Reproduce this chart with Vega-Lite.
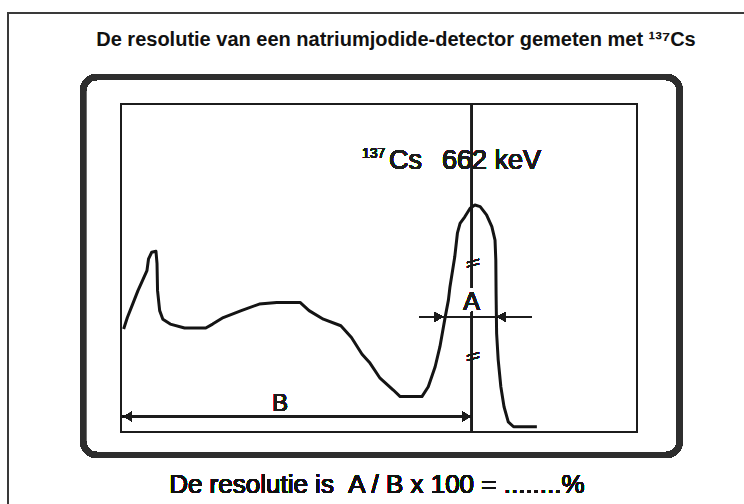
{
  "$schema": "https://vega.github.io/schema/vega-lite/v6.json",
  "width": 516,
  "height": 328,
  "autosize": {"type": "none"},
  "padding": {"left": 121, "top": 104, "right": 107, "bottom": 72},
  "background": "white",
  "config": {
    "view": {"stroke": "#1c1c1c", "strokeWidth": 2},
    "font": "Liberation Sans"
  },
  "title": {
    "text": "De resolutie van een natriumjodide-detector gemeten met  ¹³⁷Cs",
    "font": "Liberation Sans",
    "fontSize": 20,
    "fontWeight": "bold",
    "color": "#111111",
    "offset": -38,
    "dx": 17
  },
  "data": {
    "values": [
      {"keV": 5, "counts": 31.4}, {"keV": 12, "counts": 34.9}, {"keV": 22, "counts": 39},
      {"keV": 32, "counts": 43.1}, {"keV": 42, "counts": 46.7}, {"keV": 49, "counts": 49.2},
      {"keV": 52, "counts": 52.8}, {"keV": 58, "counts": 54.8}, {"keV": 66, "counts": 55.1},
      {"keV": 68, "counts": 51.3}, {"keV": 69, "counts": 43.1}, {"keV": 73, "counts": 37},
      {"keV": 79, "counts": 34.4}, {"keV": 93, "counts": 32.9}, {"keV": 120, "counts": 31.7},
      {"keV": 160, "counts": 31.7}, {"keV": 173, "counts": 32.9}, {"keV": 193, "counts": 34.9},
      {"keV": 227, "counts": 37}, {"keV": 261, "counts": 39}, {"keV": 294, "counts": 39.5},
      {"keV": 338, "counts": 39.5}, {"keV": 355, "counts": 37}, {"keV": 382, "counts": 34.4},
      {"keV": 415, "counts": 32.4}, {"keV": 435, "counts": 28.8}, {"keV": 455, "counts": 23.7},
      {"keV": 470, "counts": 21}, {"keV": 489, "counts": 16.4}, {"keV": 514, "counts": 12.8},
      {"keV": 527, "counts": 10.8}, {"keV": 568, "counts": 10.8}, {"keV": 580, "counts": 13.8},
      {"keV": 593, "counts": 19.9}, {"keV": 602, "counts": 26}, {"keV": 612, "counts": 35.1},
      {"keV": 618, "counts": 40.2}, {"keV": 621, "counts": 44.3}, {"keV": 630, "counts": 53.4},
      {"keV": 635, "counts": 60.6}, {"keV": 640, "counts": 63.6}, {"keV": 649, "counts": 65.6},
      {"keV": 659, "counts": 68.2}, {"keV": 668, "counts": 69.2}, {"keV": 678, "counts": 68.7},
      {"keV": 690, "counts": 66.2}, {"keV": 700, "counts": 62.6}, {"keV": 706, "counts": 58.5},
      {"keV": 707.5, "counts": 52.4}, {"keV": 708, "counts": 42.3}, {"keV": 709, "counts": 30.1},
      {"keV": 712, "counts": 22}, {"keV": 717, "counts": 13.8}, {"keV": 723, "counts": 7.7},
      {"keV": 731, "counts": 3.1}, {"keV": 741, "counts": 1.6}, {"keV": 785, "counts": 1.6}
    ]
  },
  "layer": [
    {
      "mark": {"type": "rect", "fillOpacity": 0, "fill": "white", "stroke": "#3a3a3a", "strokeWidth": 1.5},
      "encoding": {
        "x": {"datum": -213, "type": "quantitative", "scale": {"domain": [0, 974], "nice": false, "zero": false}, "axis": null},
        "x2": {"datum": 1206},
        "y": {"datum": 127.7, "type": "quantitative", "scale": {"domain": [0, 100], "nice": false, "zero": false}, "axis": null},
        "y2": {"datum": -30}
      }
    },
    {
      "mark": {"type": "rect", "fillOpacity": 0, "fill": "white", "stroke": "#2e2e2e", "strokeWidth": 6, "cornerRadius": 14},
      "encoding": {
        "x": {"datum": -71.7, "type": "quantitative", "scale": {"domain": [0, 974], "nice": false, "zero": false}, "axis": null},
        "x2": {"datum": 1055},
        "y": {"datum": 108.2, "type": "quantitative", "scale": {"domain": [0, 100], "nice": false, "zero": false}, "axis": null},
        "y2": {"datum": -7.0}
      }
    },
    {
      "mark": {"type": "line", "color": "#141414", "strokeWidth": 3, "strokeJoin": "round"},
      "encoding": {
        "x": {"field": "keV", "type": "quantitative", "scale": {"domain": [0, 974], "nice": false, "zero": false}, "axis": null},
        "y": {"field": "counts", "type": "quantitative", "scale": {"domain": [0, 100], "nice": false, "zero": false}, "axis": null}
      }
    },
    {
      "mark": {"type": "rule", "color": "#1c1c1c", "strokeWidth": 1.5},
      "encoding": {
        "x": {"datum": 662, "type": "quantitative", "scale": {"domain": [0, 974], "nice": false, "zero": false}, "axis": null},
        "y": {"datum": 100, "type": "quantitative", "scale": {"domain": [0, 100], "nice": false, "zero": false}, "axis": null},
        "y2": {"datum": 43.9}
      }
    },
    {
      "mark": {"type": "rule", "color": "#1c1c1c", "strokeWidth": 1.5},
      "encoding": {
        "x": {"datum": 662, "type": "quantitative", "scale": {"domain": [0, 974], "nice": false, "zero": false}, "axis": null},
        "y": {"datum": 36.7, "type": "quantitative", "scale": {"domain": [0, 100], "nice": false, "zero": false}, "axis": null},
        "y2": {"datum": 0}
      }
    },
    {
      "mark": {"type": "rule", "color": "#1c1c1c", "strokeWidth": 1.5},
      "encoding": {
        "x": {"datum": 563, "type": "quantitative", "scale": {"domain": [0, 974], "nice": false, "zero": false}, "axis": null},
        "x2": {"datum": 775},
        "y": {"datum": 35.1, "type": "quantitative", "scale": {"domain": [0, 100], "nice": false, "zero": false}, "axis": null}
      }
    },
    {
      "mark": {"type": "rule", "color": "#1c1c1c", "strokeWidth": 1.5},
      "encoding": {
        "x": {"datum": 3, "type": "quantitative", "scale": {"domain": [0, 974], "nice": false, "zero": false}, "axis": null},
        "x2": {"datum": 660},
        "y": {"datum": 4.7, "type": "quantitative", "scale": {"domain": [0, 100], "nice": false, "zero": false}, "axis": null}
      }
    },
    {
      "mark": {"type": "point", "shape": "triangle-right", "filled": true, "color": "#1c1c1c", "size": 90, "opacity": 1},
      "encoding": {
        "x": {"datum": 600, "type": "quantitative", "scale": {"domain": [0, 974], "nice": false, "zero": false}, "axis": null},
        "y": {"datum": 35.1, "type": "quantitative", "scale": {"domain": [0, 100], "nice": false, "zero": false}, "axis": null}
      }
    },
    {
      "mark": {"type": "point", "shape": "triangle-left", "filled": true, "color": "#1c1c1c", "size": 90, "opacity": 1},
      "encoding": {
        "x": {"datum": 718, "type": "quantitative", "scale": {"domain": [0, 974], "nice": false, "zero": false}, "axis": null},
        "y": {"datum": 35.1, "type": "quantitative", "scale": {"domain": [0, 100], "nice": false, "zero": false}, "axis": null}
      }
    },
    {
      "mark": {"type": "point", "shape": "triangle-left", "filled": true, "color": "#1c1c1c", "size": 90, "opacity": 1},
      "encoding": {
        "x": {"datum": 13, "type": "quantitative", "scale": {"domain": [0, 974], "nice": false, "zero": false}, "axis": null},
        "y": {"datum": 4.7, "type": "quantitative", "scale": {"domain": [0, 100], "nice": false, "zero": false}, "axis": null}
      }
    },
    {
      "mark": {"type": "point", "shape": "triangle-right", "filled": true, "color": "#1c1c1c", "size": 90, "opacity": 1},
      "encoding": {
        "x": {"datum": 652, "type": "quantitative", "scale": {"domain": [0, 974], "nice": false, "zero": false}, "axis": null},
        "y": {"datum": 4.7, "type": "quantitative", "scale": {"domain": [0, 100], "nice": false, "zero": false}, "axis": null}
      }
    },
    {
      "mark": {"type": "text", "text": "\\\\", "fontSize": 16, "angle": 90, "color": "#1c1c1c", "align": "center", "baseline": "middle"},
      "encoding": {
        "x": {"datum": 662, "type": "quantitative", "scale": {"domain": [0, 974], "nice": false, "zero": false}, "axis": null},
        "y": {"datum": 51.5, "type": "quantitative", "scale": {"domain": [0, 100], "nice": false, "zero": false}, "axis": null}
      }
    },
    {
      "mark": {"type": "text", "text": "\\\\", "fontSize": 16, "angle": 90, "color": "#1c1c1c", "align": "center", "baseline": "middle"},
      "encoding": {
        "x": {"datum": 662, "type": "quantitative", "scale": {"domain": [0, 974], "nice": false, "zero": false}, "axis": null},
        "y": {"datum": 23, "type": "quantitative", "scale": {"domain": [0, 100], "nice": false, "zero": false}, "axis": null}
      }
    },
    {
      "mark": {"type": "text", "text": "A", "fontSize": 25, "color": "#1c1c1c", "align": "center", "baseline": "alphabetic"},
      "encoding": {
        "x": {"datum": 662, "type": "quantitative", "scale": {"domain": [0, 974], "nice": false, "zero": false}, "axis": null},
        "y": {"datum": 37.2, "type": "quantitative", "scale": {"domain": [0, 100], "nice": false, "zero": false}, "axis": null}
      }
    },
    {
      "mark": {"type": "text", "text": "B", "fontSize": 24, "color": "#1c1c1c", "align": "center", "baseline": "alphabetic"},
      "encoding": {
        "x": {"datum": 300, "type": "quantitative", "scale": {"domain": [0, 974], "nice": false, "zero": false}, "axis": null},
        "y": {"datum": 6.4, "type": "quantitative", "scale": {"domain": [0, 100], "nice": false, "zero": false}, "axis": null}
      }
    },
    {
      "mark": {"type": "text", "text": "137", "fontSize": 14, "color": "#1c1c1c", "align": "left", "baseline": "alphabetic"},
      "encoding": {
        "x": {"datum": 455, "type": "quantitative", "scale": {"domain": [0, 974], "nice": false, "zero": false}, "axis": null},
        "y": {"datum": 83.5, "type": "quantitative", "scale": {"domain": [0, 100], "nice": false, "zero": false}, "axis": null}
      }
    },
    {
      "mark": {"type": "text", "text": "Cs", "fontSize": 27, "color": "#1c1c1c", "align": "left", "baseline": "alphabetic"},
      "encoding": {
        "x": {"datum": 506, "type": "quantitative", "scale": {"domain": [0, 974], "nice": false, "zero": false}, "axis": null},
        "y": {"datum": 80.3, "type": "quantitative", "scale": {"domain": [0, 100], "nice": false, "zero": false}, "axis": null}
      }
    },
    {
      "mark": {"type": "text", "text": "662 keV", "fontSize": 27, "color": "#1c1c1c", "align": "left", "baseline": "alphabetic"},
      "encoding": {
        "x": {"datum": 606, "type": "quantitative", "scale": {"domain": [0, 974], "nice": false, "zero": false}, "axis": null},
        "y": {"datum": 80.3, "type": "quantitative", "scale": {"domain": [0, 100], "nice": false, "zero": false}, "axis": null}
      }
    },
    {
      "mark": {"type": "text", "text": "De resolutie is\u00a0\u00a0A / B x 100 = ........%", "fontSize": 26, "color": "#111111", "align": "center", "baseline": "alphabetic"},
      "encoding": {
        "x": {"datum": 483, "type": "quantitative", "scale": {"domain": [0, 974], "nice": false, "zero": false}, "axis": null},
        "y": {"datum": -18.6, "type": "quantitative", "scale": {"domain": [0, 100], "nice": false, "zero": false}, "axis": null}
      }
    }
  ]
}
